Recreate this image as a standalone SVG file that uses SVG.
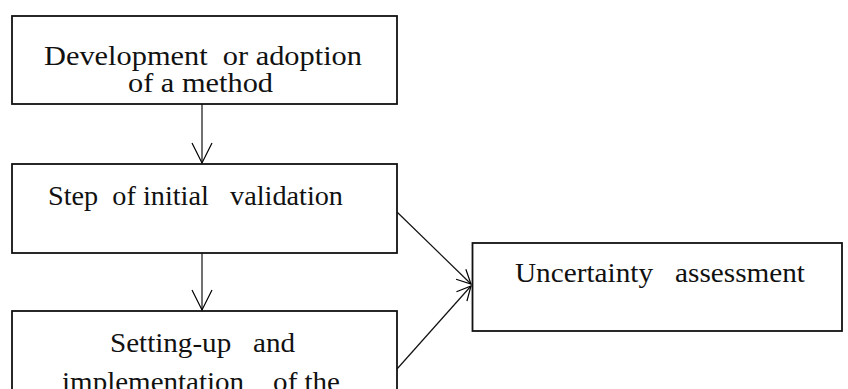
<svg xmlns="http://www.w3.org/2000/svg" width="848" height="389" viewBox="0 0 848 389">
<defs>
<marker id="v" markerUnits="userSpaceOnUse" markerWidth="24" markerHeight="24" viewBox="-22 -12 24 24" refX="0" refY="0" orient="auto">
<path d="M-20,-10 L0,0 L-20,10" fill="none" stroke="#000" stroke-width="1.2"/>
</marker>
<marker id="s" markerUnits="userSpaceOnUse" markerWidth="20" markerHeight="20" viewBox="-16 -10 20 20" refX="0" refY="0" orient="auto">
<path d="M-14,-7 L0,0 L-14,7" fill="none" stroke="#000" stroke-width="1.2"/>
</marker>
<style>
.box{fill:#fff;stroke:#111;stroke-width:1.8}
.t{font-family:"Liberation Serif","Times New Roman",serif;font-size:28px;fill:#111;white-space:pre}
.c{fill:none;stroke:#111;stroke-width:1.2}
</style>
</defs>
<rect width="848" height="389" fill="#fff"/>
<g id="n1">
<rect class="box" x="12" y="16" width="385" height="88"/>
<text class="t" x="44" y="65" textLength="318" lengthAdjust="spacingAndGlyphs">Development  or adoption</text>
<text class="t" x="128" y="92" textLength="145" lengthAdjust="spacingAndGlyphs">of a method</text>
</g>
<g id="n2">
<rect class="box" x="12" y="164" width="385" height="89"/>
<text class="t" x="48" y="205" textLength="295" lengthAdjust="spacingAndGlyphs">Step  of initial   validation</text>
</g>
<g id="n3">
<rect class="box" x="12" y="311" width="385" height="100"/>
<text class="t" x="110" y="352" textLength="185" lengthAdjust="spacingAndGlyphs">Setting-up   and</text>
<text class="t" x="62" y="391" textLength="278" lengthAdjust="spacingAndGlyphs">implementation    of the</text>
</g>
<g id="n4">
<rect class="box" x="472.5" y="243" width="369.5" height="88"/>
<text class="t" x="515" y="282" textLength="290" lengthAdjust="spacingAndGlyphs">Uncertainty   assessment</text>
</g>
<g id="connectors">
<line class="c" x1="202" y1="104" x2="202" y2="163" marker-end="url(#v)"/>
<line class="c" x1="202" y1="253" x2="202" y2="310" marker-end="url(#v)"/>
<line class="c" x1="397" y1="212" x2="471" y2="284" marker-end="url(#s)"/>
<line class="c" x1="397" y1="369" x2="471" y2="286" marker-end="url(#s)"/>
</g>
</svg>
